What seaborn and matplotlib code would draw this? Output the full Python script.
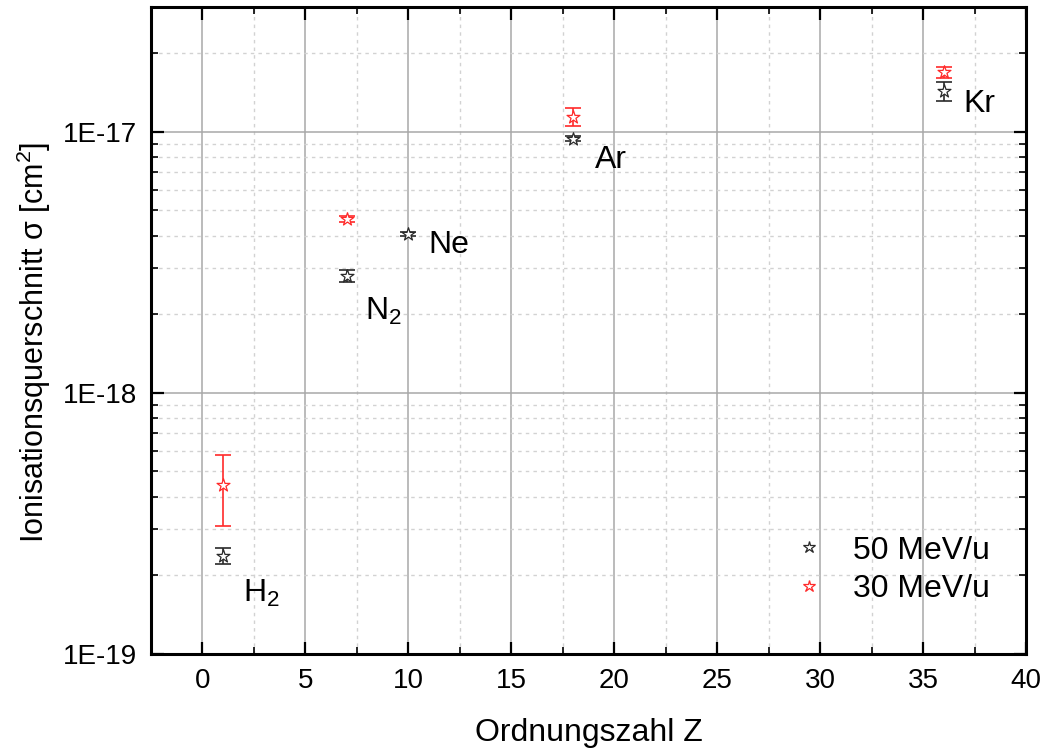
import matplotlib
matplotlib.use("Agg")
import matplotlib.pyplot as plt
import matplotlib.ticker as mticker
from matplotlib.lines import Line2D
import numpy as np
import pandas as pd
import seaborn as sns

# Atomic number Z of the targets
z_50 = [1, 7, 10, 18, 36]
z_30 = [1, 7, 18, 36]

# Ionisation cross sections in cm^2 with their uncertainties
sigma_50 = [2.38e-19, 2.81e-18, 4.06e-18, 9.40e-18, 1.43e-17]
err_50 = [0.17e-19, 0.15e-18, 0.08e-18, 0.20e-18, 0.12e-17]
sigma_30 = [4.44e-19, 4.63e-18, 1.14e-17, 1.69e-17]
err_30 = [1.35e-19, 0.12e-18, 0.09e-17, 0.08e-17]

series_labels = ["50 MeV/u", "30 MeV/u"]

# Target names written next to the points
target_names = ["H$_2$", "N$_2$", "Ne", "Ar", "Kr"]
name_z = [1.95, 7.9, 10.95, 19.05, 36.95]
name_sigma = [1.58e-19, 1.90e-18, 3.44e-18, 7.28e-18, 1.19e-17]

y_ticks = [1e-19, 1e-18, 1e-17]
y_tick_labels = ["1E-19", "1E-18", "1E-17"]

sns.set_style("white")
plt.rcParams["font.family"] = ["Liberation Sans", "DejaVu Sans"]
plt.rcParams["mathtext.fontset"] = "custom"
plt.rcParams["mathtext.rm"] = "Liberation Sans"
plt.rcParams["mathtext.it"] = "Liberation Sans:italic"
plt.rcParams["mathtext.bf"] = "Liberation Sans:bold"
plt.rcParams["text.color"] = "black"
plt.rcParams["axes.labelcolor"] = "black"
plt.rcParams["xtick.color"] = "black"
plt.rcParams["ytick.color"] = "black"

fig = plt.figure(figsize=(10.44, 7.49), dpi=100)
ax = fig.add_axes([0.1446, 0.1268, 0.9828 - 0.1446, 0.9907 - 0.1268])

df50 = pd.DataFrame({"Z": z_50, "sigma": sigma_50, "err": err_50})
df30 = pd.DataFrame({"Z": z_30, "sigma": sigma_30, "err": err_30})

black = "#2a2a2a"
red = "#ff2a2a"

for df, col in [(df50, black), (df30, red)]:
    ax.errorbar(df["Z"], df["sigma"], yerr=df["err"], fmt="none",
                ecolor=col, elinewidth=1.2, capsize=6, capthick=1.2, zorder=3)
    sns.scatterplot(data=df, x="Z", y="sigma", marker="*", s=95,
                    color=col, ax=ax, zorder=4, legend=False)
    coll = ax.collections[-1]
    coll.set_facecolor("white")
    coll.set_edgecolor(col)
    coll.set_linewidth(0.9)

ax.set_yscale("log")
ax.set_xlim(-2.5, 40)
ax.set_ylim(1e-19, 3e-17)

ax.xaxis.set_major_locator(mticker.MultipleLocator(5))
ax.xaxis.set_minor_locator(mticker.MultipleLocator(2.5))
ax.yaxis.set_major_locator(mticker.FixedLocator(y_ticks))
ax.yaxis.set_major_formatter(mticker.FixedFormatter(y_tick_labels))
ax.yaxis.set_minor_locator(mticker.LogLocator(base=10, subs=np.arange(2, 10)))
ax.yaxis.set_minor_formatter(mticker.NullFormatter())

ax.grid(which="major", color="#a8a8a8", linewidth=1.1, linestyle="-")
ax.grid(which="minor", color="#d2d2d2", linewidth=1.0, linestyle=(0, (2.5, 3)))
ax.set_axisbelow(True)

ax.tick_params(which="both", direction="in", top=True, right=True,
               bottom=True, left=True, color="black")
ax.tick_params(which="major", length=9, width=1.6, labelsize=20, pad=10)
ax.tick_params(which="minor", length=5, width=1.2)

for sp in ax.spines.values():
    sp.set_visible(True)
    sp.set_color("black")
    sp.set_linewidth(2.2)

ax.set_xlabel("Ordnungszahl Z", fontsize=23, labelpad=17)
ax.set_ylabel("Ionisationsquerschnitt σ [cm$^2$]", fontsize=22, labelpad=7)
ax.yaxis.label.set_y(0.482)

for name, zx, sy in zip(target_names, name_z, name_sigma):
    ax.text(zx, sy, name, fontsize=23, ha="left", va="baseline", color="black")

handles = [
    Line2D([], [], linestyle="none", marker="*", markersize=9,
           markerfacecolor="white", markeredgecolor=black, markeredgewidth=0.9),
    Line2D([], [], linestyle="none", marker="*", markersize=9,
           markerfacecolor="white", markeredgecolor=red, markeredgewidth=0.9),
]
ax.legend(handles, series_labels, loc="lower right",
          bbox_to_anchor=(0.992, 0.033), frameon=False, fontsize=23,
          handletextpad=0.63, labelspacing=0.26, handlelength=1.5)

fig.savefig("out.png", dpi=100)
